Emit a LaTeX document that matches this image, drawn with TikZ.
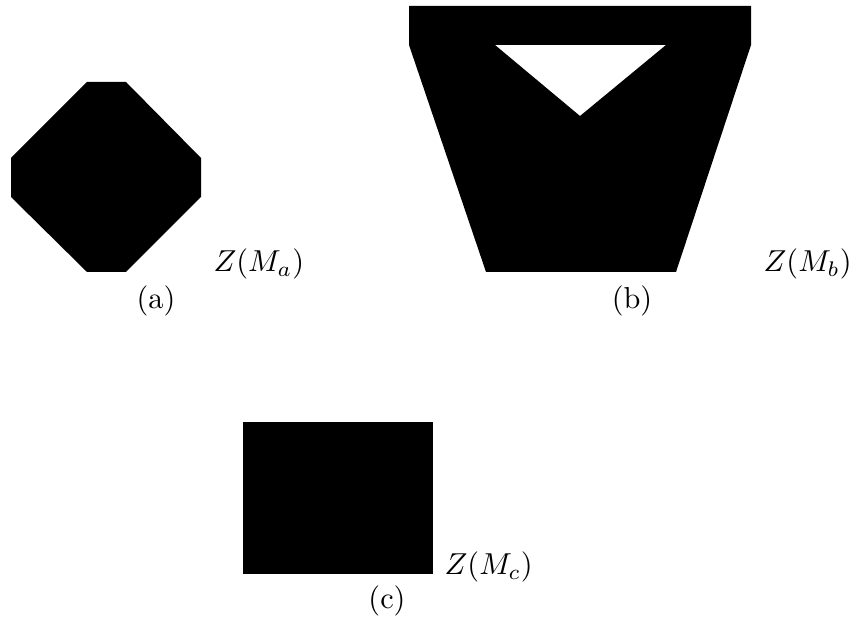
\documentclass[tikz,border=0pt]{standalone}
\begin{document}
\begin{tikzpicture}[x=0.33pt,y=-0.33pt,
  blk/.style={fill=black,draw=none},
  lbl/.style={anchor=base west,inner sep=0pt},
  subcap/.style={anchor=base,inner sep=0pt}]
\useasboundingbox (0,0) rectangle (853,623);
% (a) octagon
\fill[blk] (87,82) -- (126,82) -- (201,158) -- (201,197) -- (126,272) -- (87,272) -- (11,197) -- (11,158) -- cycle;
\node[lbl] (za) at (213,272) {$Z(M_a)$};
\node[subcap] (ca) at (156,309) {(a)};
% (b)
\fill[blk,even odd rule] (409,6) -- (751,6) -- (751,45) -- (676,272) -- (486,272) -- (409,45) -- cycle
  (495,45) -- (666,45) -- (580,116) -- cycle;
\node[lbl] (zb) at (763,272) {$Z(M_b)$};
\node[subcap] (cb) at (632,309) {(b)};
% (c)
\fill[blk] (243,422) rectangle (433,574);
\node[lbl] (zc) at (444,575) {$Z(M_c)$};
\node[subcap] (cc) at (387,609) {(c)};
\end{tikzpicture}
\end{document}
